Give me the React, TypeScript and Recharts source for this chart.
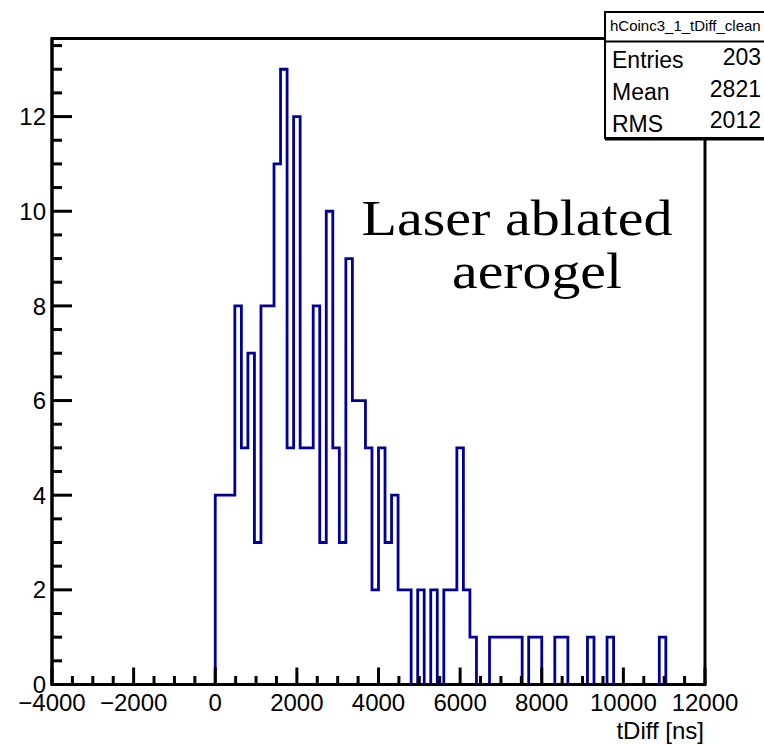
import React from 'react';
import { LineChart, Line, XAxis, YAxis, ReferenceArea } from 'recharts';

// histogram definition: 100 bins from -4000 to 12000 ns
const X_MIN = -4000;
const X_MAX = 12000;
const BIN_WIDTH = 160;
const Y_MAX = 13.65;

// counts per bin (bins 0..24 are below 0 ns)
const binCounts = [
  0, 0, 0, 0, 0, 0, 0, 0, 0, 0, 0, 0, 0, 0, 0, 0, 0, 0, 0, 0, 0, 0, 0, 0, 0,
  4, 4, 4, 8, 5, 7, 3, 8, 8, 11,
  13, 5, 12, 5, 5, 8, 3, 10, 5, 3,
  9, 6, 6, 5, 2, 5, 3, 4, 2, 2,
  0, 2, 0, 2, 0, 2, 2, 5, 2, 1,
  0, 0, 1, 1, 1, 1, 1, 0, 1, 1,
  0, 0, 1, 1, 0, 0, 0, 1, 0, 0,
  1, 0, 0, 0, 0, 0, 0, 0, 1,
  0, 0, 0, 0, 0, 0,
];

const xMajorTicks = [-4000, -2000, 0, 2000, 4000, 6000, 8000, 10000, 12000];
const yMajorTicks = [0, 2, 4, 6, 8, 10, 12];

const statsTitle = 'hCoinc3_1_tDiff_clean';
const statsLabels = ['Entries', 'Mean', 'RMS'];
const statsValues = ['203', '2821', '2012'];

const annotationLines = ['Laser ablated', 'aerogel'];
const xTitle = 'tDiff [ns]';

const data = binCounts.map((c, i) => ({ x: X_MIN + i * BIN_WIDTH, count: c }));
data.push({ x: X_MAX, count: binCounts[binCounts.length - 1] });

// 4 subdivisions between x majors, 4 between y majors
const xTicks: number[] = [];
for (let v = X_MIN; v <= X_MAX; v += 500) xTicks.push(v);
const yTicks: number[] = [];
for (let v = 0; v < Y_MAX; v += 0.5) yTicks.push(v);

const SANS = '"Liberation Sans", Arial, Helvetica, sans-serif';
const SERIF = '"Liberation Serif", "Times New Roman", serif';

const PLOT_LEFT = 52;
const PLOT_BOTTOM = 684.5;

const fmt = (v: number) => (v < 0 ? '\u2212' + Math.abs(v) : String(v));

const XTick = (props: any) => {
  const { x, payload } = props;
  const v = payload.value;
  const major = xMajorTicks.includes(v);
  const y = PLOT_BOTTOM;
  return (
    <g>
      <line x1={x} x2={x} y1={y} y2={y - (major ? 17 : 8.5)} stroke="#000" strokeWidth={3} />
      {major && (
        <text x={x} y={y + 26} textAnchor="middle" fontFamily={SANS} fontSize={24} fill="#000">
          {fmt(v)}
        </text>
      )}
    </g>
  );
};

const YTick = (props: any) => {
  const { y, payload } = props;
  const v = payload.value;
  const major = yMajorTicks.includes(v);
  const x = PLOT_LEFT;
  return (
    <g>
      <line x1={x} x2={x + (major ? 20 : 10)} y1={y} y2={y} stroke="#000" strokeWidth={3} />
      {major && (
        <text x={x - 6} y={y} dy="0.36em" textAnchor="end" fontFamily={SANS} fontSize={24} fill="#000">
          {v}
        </text>
      )}
    </g>
  );
};

export default function App() {
  return (
    <div style={{ position: 'absolute', left: 0, top: 0, width: 764, height: 745, background: '#fff' }}>
      <LineChart
        width={764}
        height={745}
        data={data}
        margin={{ top: 38.5, right: 59, bottom: 0.5, left: 0 }}
      >
        <Line
          type="stepAfter"
          dataKey="count"
          stroke="#000099"
          strokeWidth={2.8}
          dot={false}
          activeDot={false}
          isAnimationActive={false}
        />
        <ReferenceArea
          x1={X_MIN}
          x2={X_MAX}
          y1={0}
          y2={Y_MAX}
          fill="none"
          fillOpacity={0}
          stroke="#000"
          strokeWidth={3}
        />
        <XAxis
          type="number"
          dataKey="x"
          domain={[X_MIN, X_MAX]}
          ticks={xTicks}
          interval={0}
          height={60}
          tickSize={0}
          tickMargin={0}
          axisLine={{ stroke: '#000', strokeWidth: 3 }}
          tick={XTick}
          allowDataOverflow
        />
        <YAxis
          type="number"
          domain={[0, Y_MAX]}
          ticks={yTicks}
          interval={0}
          width={52}
          tickSize={0}
          tickMargin={0}
          axisLine={{ stroke: '#000', strokeWidth: 3 }}
          tick={YTick}
          allowDataOverflow
        />
      </LineChart>
      <svg
        width={764}
        height={745}
        style={{ position: 'absolute', left: 0, top: 0, pointerEvents: 'none' }}
      >
        {annotationLines.map((t, i) => (
          <text
            key={t}
            x={i === 0 ? 517 : 537}
            y={i === 0 ? 235 : 288}
            textAnchor="middle"
            fontFamily={SERIF}
            fontSize={50}
            textLength={i === 0 ? 311 : 170}
            lengthAdjust="spacingAndGlyphs"
            fill="#000"
          >
            {t}
          </text>
        ))}
        <text x={704} y={739} textAnchor="end" fontFamily={SANS} fontSize={24} fill="#000">
          {xTitle}
        </text>
        <rect x={605} y={12} width={170} height={126} fill="#fff" stroke="#000" strokeWidth={2} />
        <line x1={605} x2={770} y1={139} y2={139} stroke="#000" strokeWidth={3} />
        <line x1={605} x2={770} y1={41.5} y2={41.5} stroke="#000" strokeWidth={2} />
        <text x={610} y={31} fontFamily={SANS} fontSize={15} fill="#000">
          {statsTitle}
        </text>
        {statsLabels.map((l, i) => (
          <g key={l}>
            <text x={612} y={68 + i * 32} fontFamily={SANS} fontSize={23} fill="#000">
              {l}
            </text>
            <text x={761} y={65 + i * 31.5} textAnchor="end" fontFamily={SANS} fontSize={23} fill="#000">
              {statsValues[i]}
            </text>
          </g>
        ))}
      </svg>
    </div>
  );
}
